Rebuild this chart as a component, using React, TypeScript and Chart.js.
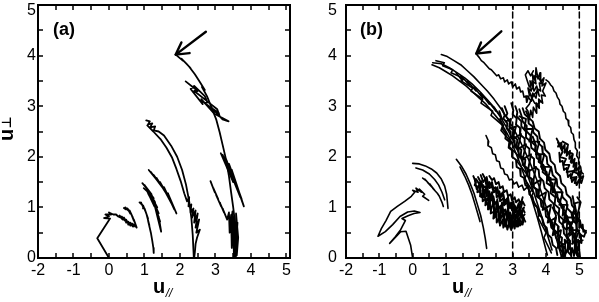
import React, { useEffect, useRef } from 'react';
import { Chart, registerables } from 'chart.js';
Chart.register(...registerables);

type P = [number, number];

// ---------- axis ticks ----------
const xTickLabels = [-2, -1, 0, 1, 2, 3, 4, 5];
const yTickLabels = [0, 1, 2, 3, 4, 5];
const minorStep = 0.5;
const dashedLinesB = [3, 5];

// ---------- panel (a) trajectory ----------
const a1: P[] = [[0,0],[-0.33,0.39],[0.03,0.78],[-0.14,0.79],[0.0,0.82],[-0.1,0.86],[0.06,0.86],[0.0,0.9],[0.12,0.86],[0.2,0.86],[0.26,0.82],[0.32,0.8],[0.3,0.84],[0.38,0.76],[0.36,0.82],[0.44,0.74],[0.42,0.8],[0.5,0.7],[0.48,0.76],[0.56,0.66],[0.54,0.72],[0.62,0.64],[0.6,0.7],[0.68,0.62],[0.66,0.68],[0.74,0.62],[0.72,0.66]];
const a2: P[] = [[0.42,0.99],[0.48,0.96],[0.46,1.0],[0.54,0.94],[0.52,0.98],[0.6,0.88],[0.58,0.94],[0.66,0.82],[0.62,0.88],[0.7,0.74],[0.66,0.82],[0.74,0.68],[0.7,0.76],[0.78,0.6],[0.72,0.72]];
const a3: P[] = [[0.86,1.1],[0.92,1.06],[0.9,1.1],[0.98,0.98],[0.96,1.04],[1.04,0.9],[1.0,0.98],[1.1,0.78],[1.06,0.86],[1.14,0.64],[1.1,0.74],[1.18,0.5],[1.22,0.34],[1.25,0.2],[1.26,0.1]];
const a4: P[] = [[0.94,1.48],[1.2,1.26],[1.0,1.44],[1.26,1.18],[1.04,1.4],[1.3,1.1],[1.1,1.34],[1.36,1.0],[1.16,1.26],[1.4,0.88],[1.24,1.14],[1.44,0.72],[1.3,1.0],[1.47,0.52],[1.4,0.82]];
const a4b: P[] = [[0.98,1.38],[1.1,1.3],[1.04,1.36],[1.16,1.22],[1.1,1.28],[1.22,1.12],[1.16,1.2],[1.28,1.02]];
const a5: P[] = [[1.12,1.74],[1.4,1.5],[1.18,1.7],[1.5,1.4],[1.26,1.64],[1.6,1.3],[1.34,1.58],[1.68,1.2],[1.44,1.5],[1.76,1.08],[1.55,1.4],[1.84,0.96],[1.66,1.28],[1.9,0.88]];
const a6: P[] = [[1.05,2.72],[1.15,2.7],[1.1,2.64],[1.22,2.66],[1.16,2.58],[1.3,2.6],[1.26,2.52],[1.4,2.5],[1.55,2.42],[1.75,2.22],[1.92,2.0],[2.06,1.74],[2.17,1.45],[2.26,1.12],[2.32,0.8],[2.36,0.45],[2.38,0.15],[2.39,0]];
const a7: P[] = [[1.08,2.62],[1.25,2.5],[1.45,2.35],[1.62,2.18],[1.78,1.98],[1.9,1.76],[2.02,1.52],[2.12,1.28],[2.2,1.12],[2.26,1.2],[2.24,1.02],[2.32,1.06],[2.3,0.9],[2.38,0.98],[2.34,0.8],[2.44,0.94],[2.4,0.7],[2.5,0.88],[2.44,0.6],[2.54,0.76],[2.46,0.5],[2.56,0.56],[2.48,0.4],[2.44,0.28],[2.42,0.12],[2.4,0]];
const a8: P[] = [[1.88,4.02],[1.98,3.96],[2.08,3.9],[2.04,3.94],[2.18,3.84],[2.3,3.75],[2.26,3.78],[2.42,3.63],[2.56,3.48],[2.7,3.32],[2.62,3.38],[2.76,3.2],[2.9,2.96],[3.02,2.74],[3.12,2.48],[3.2,2.24],[3.3,1.94],[3.38,1.62],[3.44,1.3],[3.5,1.0],[3.55,0.7],[3.57,0.4],[3.57,0]];
const a9: P[] = [[2.16,3.49],[2.5,3.3],[2.4,3.3],[2.8,3.08],[2.7,3.06],[3.1,2.86],[3.0,2.84],[3.37,2.7],[3.2,2.74],[2.9,2.96],[2.96,2.86],[2.6,3.14],[2.64,3.04],[2.3,3.34],[2.4,3.4],[2.7,3.2],[2.76,3.1],[3.05,2.94],[3.12,2.8]];
const a10: P[] = [[3.15,2.07],[3.5,1.5],[3.2,2.04],[3.58,1.42],[3.24,2.0],[3.66,1.3],[3.3,1.95],[3.74,1.16],[3.38,1.86],[3.8,1.02],[3.46,1.74],[3.7,1.2],[3.3,1.9],[3.6,1.38]];
const a11: P[] = [[2.86,1.52],[2.98,1.3],[2.94,1.38],[3.08,1.16],[3.02,1.24],[3.16,1.02],[3.12,1.1],[3.24,0.9],[3.2,0.98],[3.33,0.76],[3.38,0.9],[3.4,0.5],[3.44,0.85],[3.46,0.2],[3.5,0.8],[3.52,0.02],[3.55,0.7],[3.6,0.25],[3.58,0.88],[3.64,0.4],[3.6,0.05],[3.42,0.6],[3.48,0.92],[3.54,0.4],[3.62,0.7],[3.56,0.02]];
const arrowShaftA: P[] = [[2.73,4.47],[1.88,4.02]];
const arrowHeadA: P[] = [[2.04,4.26],[1.88,4.02],[2.27,4.05]];

// ---------- panel (b) trajectory ----------
const b1: P[] = [[0,0],[-0.06,0.25],[-0.2,0.53],[-0.36,0.52],[-0.69,0.29],[-0.52,0.42],[-0.36,0.56],[-0.22,0.74],[-0.32,0.78],[-0.12,0.84],[0.04,0.88],[0.22,0.9],[0.05,0.93],[-0.15,0.91],[-0.38,0.82],[-0.6,0.66],[-0.82,0.52],[-1.04,0.43],[-0.94,0.58],[-0.8,0.74],[-0.66,0.92],[-0.46,1.02],[-0.24,1.12],[-0.04,1.22],[0.06,1.3],[0.0,1.34],[0.16,1.3],[0.1,1.38],[0.26,1.3],[0.2,1.36],[0.36,1.26],[0.3,1.22],[0.48,1.14]];
const b2: P[] = [[0.0,1.87],[0.2,1.86],[0.38,1.82],[0.56,1.76],[0.72,1.68],[0.86,1.56],[0.96,1.42],[1.02,1.26],[1.06,0.98]];
const b2b: P[] = [[0.3,1.58],[0.42,1.52],[0.36,1.56],[0.5,1.46],[0.44,1.5],[0.58,1.4],[0.52,1.46],[0.66,1.34],[0.6,1.38],[0.74,1.28],[0.8,1.22],[0.88,1.1],[0.92,1.02]];
const b2c: P[] = [[0.1,1.78],[0.3,1.74],[0.5,1.66],[0.66,1.55],[0.78,1.44],[0.88,1.3],[0.96,1.15]];
const b3: P[] = [[1.31,1.95],[1.46,1.82],[1.6,1.66],[1.72,1.48],[1.84,1.28],[1.94,1.06],[2.04,0.84],[2.12,0.6],[2.18,0.38],[2.22,0.19]];
const b3b: P[] = [[1.42,1.8],[1.56,1.62],[1.68,1.44],[1.78,1.26],[1.88,1.04],[1.96,0.86],[2.02,0.72]];
const n1: P[] = [[1.82,1.62],[1.9,1.5],[1.86,1.44],[1.96,1.4],[1.94,1.3],[2.04,1.34],[2.02,1.22],[2.1,1.26],[2.1,1.12],[2.2,1.18],[2.18,1.04],[2.28,1.1],[2.26,0.96],[2.36,1.0],[2.34,0.88],[2.44,0.92],[2.42,0.78],[2.52,0.86],[2.52,0.7],[2.6,0.8],[2.62,0.64],[2.7,0.76],[2.72,0.6],[2.8,0.72],[2.84,0.56],[2.9,0.7],[2.96,0.55],[3.0,0.72],[3.06,0.58],[3.1,0.74],[3.16,0.62],[3.2,0.78],[3.28,0.66],[3.3,0.82],[3.38,0.72]];
const n2: P[] = [[1.96,1.6],[2.04,1.5],[2.02,1.42],[2.12,1.44],[2.12,1.32],[2.22,1.36],[2.22,1.22],[2.32,1.26],[2.32,1.12],[2.42,1.18],[2.42,1.04],[2.52,1.1],[2.52,0.96],[2.62,1.02],[2.64,0.88],[2.72,0.96],[2.74,0.82],[2.82,0.92],[2.86,0.78],[2.92,0.9],[2.98,0.76],[3.04,0.9],[3.1,0.8],[3.16,0.94],[3.22,0.84],[3.3,0.98],[3.36,0.9]];
const n3: P[] = [[2.1,1.66],[2.18,1.56],[2.2,1.46],[2.3,1.5],[2.3,1.38],[2.4,1.42],[2.42,1.3],[2.5,1.34],[2.52,1.2],[2.62,1.26],[2.62,1.12],[2.72,1.18],[2.74,1.04],[2.84,1.1],[2.86,0.98],[2.94,1.06],[2.98,0.94],[3.06,1.04],[3.1,0.94],[3.18,1.08],[3.24,0.98],[3.3,1.12],[3.36,1.04]];
const n4: P[] = [[2.3,1.62],[2.38,1.54],[2.44,1.58],[2.5,1.46],[2.58,1.5],[2.62,1.38],[2.7,1.42],[2.74,1.3],[2.82,1.34],[2.86,1.22],[2.94,1.26],[2.98,1.14],[3.06,1.2],[3.1,1.1],[3.18,1.16],[3.24,1.06],[3.3,1.2]];
const n5: P[] = [[2.0,1.3],[2.06,1.52],[2.14,1.2],[2.24,1.46],[2.3,1.0],[2.38,1.3],[2.46,0.8],[2.54,1.16],[2.6,0.7],[2.68,1.1],[2.78,0.62],[2.86,1.0],[2.94,0.58],[3.02,0.98],[3.12,0.62],[3.2,1.0],[3.32,0.7]];
const n6: P[] = [[1.9,1.56],[1.98,1.48],[2.06,1.5],[2.1,1.38],[2.18,1.42],[2.22,1.28],[2.3,1.32],[2.34,1.18],[2.42,1.22],[2.46,1.08],[2.54,1.12],[2.58,0.98],[2.66,1.04],[2.7,0.9],[2.78,0.96],[2.82,0.82],[2.9,0.88],[2.94,0.74],[3.02,0.82],[3.08,0.68],[3.16,0.76],[3.22,0.64],[3.3,0.74]];
const n7: P[] = [[2.2,1.56],[2.28,1.44],[2.36,1.48],[2.4,1.36],[2.48,1.4],[2.52,1.28],[2.6,1.32],[2.64,1.2],[2.72,1.26],[2.76,1.12],[2.84,1.18],[2.88,1.04],[2.96,1.1],[3.0,0.98],[3.08,1.02],[3.14,0.88],[3.22,0.94],[3.28,0.8],[3.36,0.86]];
const n8: P[] = [[1.86,1.56],[1.92,1.36],[2.0,1.46],[2.06,1.2],[2.14,1.34],[2.2,1.08],[2.28,1.22],[2.34,0.94],[2.42,1.1],[2.48,0.82],[2.56,0.98],[2.62,0.74],[2.7,0.88],[2.76,0.66],[2.84,0.82],[2.9,0.62],[2.98,0.84],[3.04,0.64],[3.12,0.86],[3.18,0.7],[3.26,0.9],[3.34,0.78]];
const n9: P[] = [[2.04,1.64],[2.12,1.5],[2.22,1.6],[2.28,1.4],[2.38,1.5],[2.44,1.3],[2.54,1.4],[2.6,1.18],[2.7,1.3],[2.76,1.06],[2.86,1.2],[2.92,0.98],[3.02,1.12],[3.08,0.9],[3.18,1.04],[3.26,0.86],[3.34,1.0]];
const b5: P[] = [[2.2,2.42],[2.28,2.3],[2.26,2.22],[2.36,2.18],[2.4,2.06],[2.48,2.04],[2.52,1.92],[2.6,1.9],[2.64,1.78],[2.72,1.76],[2.76,1.66],[2.84,1.64],[2.9,1.54],[2.98,1.56],[3.04,1.46],[3.12,1.5],[3.18,1.4],[3.28,1.44],[3.34,1.34],[3.44,1.4],[3.52,1.3],[3.6,1.36]];
const s1: P[] = [[0.58,3.82],[0.8,3.76],[1.0,3.68],[1.2,3.6],[1.4,3.5],[1.6,3.4],[1.8,3.28],[2.0,3.16],[2.2,3.04],[2.4,2.88],[2.6,2.72],[2.8,2.5],[2.9,2.38],[3.02,2.2],[3.14,2.0],[3.26,1.8],[3.38,1.56],[3.5,1.32],[3.62,1.06],[3.74,0.8],[3.86,0.52],[3.96,0.26],[4.04,0.06]];
const s2: P[] = [[0.6,3.86],[0.86,3.84],[1.1,3.76],[1.34,3.66],[1.56,3.56],[1.78,3.44],[2.0,3.3],[2.22,3.14],[2.44,2.98],[2.62,2.8],[2.8,2.6],[2.96,2.4],[3.1,2.2],[3.24,1.98],[3.38,1.76],[3.52,1.5],[3.66,1.24],[3.8,0.96],[3.94,0.68],[4.06,0.42],[4.18,0.16]];
const s3: P[] = [[0.86,4.02],[1.04,3.98],[1.24,3.9],[1.44,3.82],[1.64,3.7],[1.84,3.58],[2.04,3.44],[2.24,3.3],[2.44,3.14],[2.64,2.96],[2.84,2.76],[3.02,2.56],[3.2,2.34],[3.36,2.12],[3.52,1.88],[3.68,1.62],[3.84,1.34],[3.98,1.06],[4.12,0.78],[4.26,0.5],[4.38,0.22],[4.46,0.04]];
const s4: P[] = [[0.7,3.9],[0.95,3.86],[0.9,3.8],[1.2,3.72],[1.15,3.66],[1.5,3.56],[1.45,3.5],[1.8,3.36],[1.75,3.3],[2.1,3.14],[2.05,3.06],[2.4,2.9],[2.35,2.82],[2.7,2.62],[2.65,2.52],[2.95,2.3],[2.9,2.2],[3.2,2.0],[3.14,1.9],[3.42,1.66],[3.36,1.56],[3.62,1.3],[3.56,1.2],[3.82,0.9],[3.76,0.8],[4.0,0.5],[3.94,0.4],[4.16,0.1]];
const s8: P[] = [[1.3,3.66],[1.5,3.5],[1.45,3.6],[1.7,3.42],[1.64,3.5],[1.9,3.3],[1.84,3.38],[2.1,3.16],[2.04,3.26],[2.3,3.04],[2.24,3.12],[2.5,2.9],[2.44,2.98],[2.7,2.74]];
const c1: P[] = [[2.6,2.9],[2.66,2.78],[2.62,2.74],[2.72,2.62],[2.7,2.54],[2.8,2.46],[2.78,2.36],[2.9,2.3],[2.88,2.18],[3.0,2.12],[2.98,2.0],[3.1,1.94],[3.12,1.8],[3.22,1.76],[3.24,1.62],[3.34,1.58],[3.38,1.44],[3.48,1.4],[3.5,1.26],[3.6,1.2],[3.64,1.06],[3.74,1.0],[3.78,0.86],[3.88,0.8],[3.92,0.66],[4.02,0.6],[4.06,0.46],[4.16,0.4],[4.2,0.26],[4.3,0.2],[4.34,0.06]];
const c2: P[] = [[2.76,3.0],[2.84,2.86],[2.8,2.8],[2.92,2.7],[2.9,2.6],[3.02,2.52],[3.0,2.42],[3.14,2.34],[3.12,2.22],[3.26,2.14],[3.24,2.02],[3.38,1.94],[3.36,1.82],[3.5,1.74],[3.5,1.6],[3.62,1.54],[3.64,1.4],[3.76,1.34],[3.78,1.2],[3.9,1.12],[3.94,0.98],[4.04,0.92],[4.08,0.78],[4.2,0.7],[4.24,0.56],[4.34,0.5],[4.38,0.34],[4.48,0.28],[4.5,0.12],[4.58,0.04]];
const c3: P[] = [[2.96,3.06],[3.02,2.92],[3.0,2.84],[3.12,2.76],[3.1,2.64],[3.24,2.56],[3.22,2.44],[3.36,2.36],[3.36,2.24],[3.5,2.16],[3.5,2.04],[3.64,1.96],[3.64,1.82],[3.78,1.74],[3.8,1.6],[3.92,1.52],[3.96,1.38],[4.08,1.3],[4.1,1.16],[4.22,1.08],[4.26,0.94],[4.38,0.86],[4.4,0.72],[4.52,0.64],[4.54,0.48],[4.64,0.4],[4.66,0.24],[4.74,0.16],[4.76,0.02]];
const c4: P[] = [[3.2,2.94],[3.26,2.82],[3.3,2.7],[3.4,2.62],[3.42,2.5],[3.54,2.42],[3.56,2.3],[3.68,2.22],[3.7,2.1],[3.82,2.02],[3.84,1.88],[3.96,1.8],[4.0,1.66],[4.12,1.58],[4.14,1.44],[4.26,1.36],[4.3,1.22],[4.42,1.14],[4.46,1.0],[4.58,0.92],[4.6,0.78],[4.72,0.7],[4.74,0.56],[4.84,0.48],[4.86,0.32],[4.92,0.22],[4.94,0.06]];
const c5: P[] = [[3.4,2.9],[3.5,2.76],[3.6,2.7],[3.66,2.56],[3.78,2.5],[3.82,2.36],[3.94,2.28],[3.98,2.14],[4.1,2.06],[4.14,1.92],[4.26,1.84],[4.3,1.7],[4.42,1.62],[4.46,1.48],[4.58,1.4],[4.62,1.26],[4.74,1.18],[4.78,1.04],[4.88,0.96],[4.92,0.82],[5.02,0.74],[5.06,0.6],[5.16,0.54],[5.2,0.5]];
const c6: P[] = [[2.68,2.96],[2.76,2.82],[2.72,2.76],[2.84,2.66],[2.82,2.56],[2.94,2.5],[2.94,2.38],[3.06,2.32],[3.06,2.2],[3.18,2.14],[3.18,2.02],[3.3,1.96],[3.3,1.84],[3.44,1.76],[3.44,1.62],[3.56,1.56],[3.58,1.42],[3.7,1.36],[3.72,1.22],[3.84,1.16],[3.86,1.02],[3.98,0.96],[4.0,0.82],[4.12,0.76],[4.16,0.6],[4.26,0.54],[4.3,0.4],[4.4,0.32],[4.42,0.18],[4.5,0.1],[4.52,0.0]];
const c7: P[] = [[3.08,3.0],[3.14,2.88],[3.12,2.8],[3.26,2.7],[3.26,2.6],[3.4,2.5],[3.4,2.38],[3.54,2.3],[3.56,2.18],[3.7,2.1],[3.72,1.98],[3.86,1.9],[3.88,1.76],[4.02,1.7],[4.04,1.56],[4.18,1.48],[4.2,1.34],[4.34,1.26],[4.36,1.12],[4.5,1.04],[4.52,0.9],[4.64,0.82],[4.68,0.68],[4.78,0.6],[4.8,0.44],[4.9,0.36],[4.92,0.2],[5.0,0.14],[5.02,0.02]];
const c8: P[] = [[3.3,2.96],[3.36,2.84],[3.46,2.78],[3.48,2.66],[3.6,2.6],[3.62,2.48],[3.74,2.4],[3.76,2.28],[3.88,2.2],[3.9,2.08],[4.02,2.0],[4.04,1.86],[4.16,1.78],[4.2,1.64],[4.32,1.56],[4.34,1.42],[4.46,1.34],[4.5,1.2],[4.62,1.12],[4.64,0.98],[4.76,0.9],[4.8,0.76],[4.9,0.68],[4.94,0.54],[5.04,0.46],[5.06,0.3]];
const c9: P[] = [[2.8,2.7],[2.95,2.75],[2.9,2.55],[3.1,2.6],[3.0,2.35],[3.25,2.45],[3.15,2.15],[3.4,2.25],[3.3,1.95],[3.55,2.05],[3.45,1.7],[3.7,1.8],[3.6,1.45],[3.85,1.55],[3.75,1.2],[4.0,1.3],[3.9,0.95],[4.15,1.05],[4.05,0.7],[4.3,0.8],[4.2,0.45],[4.45,0.55],[4.35,0.2],[4.6,0.3]];
const c10: P[] = [[3.2,2.8],[3.4,2.75],[3.35,2.55],[3.6,2.55],[3.5,2.3],[3.8,2.3],[3.7,2.05],[3.95,2.05],[3.85,1.8],[4.15,1.8],[4.05,1.55],[4.3,1.55],[4.2,1.3],[4.5,1.3],[4.4,1.05],[4.65,1.05],[4.55,0.8],[4.85,0.8],[4.7,0.55],[5.0,0.55],[4.85,0.3],[5.1,0.35]];
const c11: P[] = [[4.2,1.0],[4.3,0.84],[4.26,0.7],[4.38,0.62],[4.36,0.46],[4.48,0.4],[4.46,0.24],[4.58,0.18],[4.56,0.04],[4.64,0.16],[4.7,0.32],[4.64,0.46],[4.76,0.52],[4.72,0.7],[4.84,0.72],[4.8,0.9],[4.9,0.92],[4.86,1.08],[4.96,1.1]];
const c12: P[] = [[3.6,2.4],[3.7,2.22],[3.66,2.12],[3.8,2.04],[3.78,1.9],[3.92,1.84],[3.9,1.7],[4.04,1.62],[4.02,1.48],[4.16,1.42],[4.14,1.28],[4.28,1.2],[4.26,1.06],[4.4,0.98],[4.38,0.84],[4.52,0.76],[4.5,0.62],[4.62,0.56],[4.62,0.4],[4.72,0.34],[4.72,0.18],[4.82,0.12]];
const u1: P[] = [[1.91,4.03],[2.0,3.96],[2.06,3.9],[2.14,3.86],[2.22,3.8],[2.3,3.74],[2.36,3.72],[2.44,3.66],[2.52,3.6],[2.58,3.62],[2.64,3.54],[2.72,3.56],[2.76,3.48],[2.84,3.52],[2.88,3.44],[2.96,3.48],[3.0,3.38],[3.08,3.44],[3.12,3.34],[3.2,3.38],[3.24,3.28],[3.3,3.3],[3.34,3.18],[3.4,3.2],[3.42,3.08]];
const u2: P[] = [[3.42,3.08],[3.5,3.22],[3.46,3.36],[3.56,3.3],[3.52,3.5],[3.62,3.4],[3.6,3.62],[3.68,3.5],[3.7,3.76],[3.76,3.54],[3.82,3.66],[3.84,3.48],[3.94,3.56],[3.88,3.4],[4.0,3.46],[3.9,3.3],[3.98,3.2],[3.86,3.22],[3.9,3.06],[3.78,3.14],[3.8,2.96],[3.7,3.06],[3.72,2.86],[3.62,2.98],[3.6,2.78],[3.54,2.92],[3.5,2.74],[3.46,2.9],[3.4,2.96],[3.5,3.04],[3.58,3.16],[3.66,3.24],[3.74,3.3],[3.8,3.2],[3.72,3.4],[3.64,3.3],[3.58,3.44],[3.5,3.38],[3.44,3.5],[3.38,3.62],[3.46,3.7],[3.54,3.6],[3.62,3.7]];
const u4: P[] = [[3.44,3.2],[3.56,3.1],[3.6,3.26],[3.7,3.16],[3.74,3.34],[3.84,3.3],[3.8,3.46],[3.9,3.44],[3.78,3.56],[3.66,3.6],[3.7,3.44],[3.58,3.5],[3.62,3.36],[3.5,3.3],[3.56,3.18],[3.66,3.06],[3.76,3.04],[3.84,3.1]];
const u3: P[] = [[4.0,3.52],[4.08,3.48],[4.14,3.42],[4.2,3.38],[4.24,3.3],[4.3,3.26],[4.34,3.18],[4.4,3.12],[4.42,3.04],[4.48,3.0],[4.52,2.9],[4.58,2.86],[4.6,2.76],[4.66,2.72],[4.68,2.62],[4.74,2.58],[4.76,2.48],[4.82,2.44],[4.84,2.34],[4.88,2.28],[4.88,2.18],[4.94,2.12],[4.92,2.02],[4.98,1.96],[4.98,1.86],[5.04,1.8],[5.06,1.7],[5.12,1.66]];
const b8: P[] = [[4.32,2.36],[4.4,2.26],[4.36,2.2],[4.46,2.28],[4.48,2.14],[4.56,2.24],[4.56,2.08],[4.64,2.18],[4.62,2.02],[4.72,2.12],[4.7,1.96],[4.8,2.04],[4.76,1.88],[4.86,1.96],[4.82,1.8],[4.92,1.88],[4.9,1.72],[5.0,1.8],[4.96,1.64],[5.06,1.72],[5.02,1.56],[5.12,1.62],[5.06,1.48],[4.98,1.54],[4.92,1.44],[4.86,1.58],[4.78,1.5],[4.74,1.66],[4.66,1.6],[4.62,1.78],[4.54,1.74],[4.5,1.92],[4.42,1.9],[4.4,2.08]];
const b8b: P[] = [[4.36,2.28],[4.5,2.1],[4.42,2.0],[4.6,1.96],[4.52,1.84],[4.7,1.84],[4.62,1.7],[4.82,1.72],[4.74,1.58],[4.92,1.6],[4.86,1.48],[5.04,1.5],[4.98,1.66],[4.84,1.7],[4.9,1.86],[4.74,1.9],[4.8,2.06],[4.62,2.1],[4.66,2.24],[4.5,2.3]];
const b9: P[] = [[4.8,1.22],[4.86,1.0],[4.82,0.9],[4.92,0.84],[4.9,0.7],[5.0,0.76],[5.0,0.6],[5.1,0.66],[5.12,0.52],[5.2,0.54],[5.14,0.42],[5.04,0.46],[5.06,0.3],[4.96,0.36],[5.0,0.16],[4.92,0.22],[4.96,0.02],[4.88,0.12],[4.86,0.34],[4.78,0.28],[4.8,0.5],[4.7,0.44],[4.72,0.62],[4.62,0.56],[4.64,0.76],[4.56,0.7],[4.58,0.9],[4.5,0.84],[4.54,1.02]];
const b9b: P[] = [[4.46,0.02],[4.52,0.14],[4.48,0.24],[4.58,0.2],[4.56,0.36],[4.66,0.3],[4.66,0.12],[4.74,0.06],[4.78,0.2],[4.84,0.04],[4.9,0.5],[4.96,0.9],[5.04,1.1],[4.94,1.2]];
const arrowShaftB: P[] = [[2.66,4.48],[1.91,4.04]];
const arrowHeadB: P[] = [[2.05,4.26],[1.91,4.04],[2.33,4.07]];

const trajA: P[][] = [a1, a2, a3, a4, a4b, a5, a6, a7, a8, a9, a10, a11];
const trajB: P[][] = [b1, b2, b2b, b2c, b3, b3b, b5, s1, s2, s3, s4, s8, u1, u2, u4, u3];
const denseB: P[][] = [n1, n2, n3, n4, n5, n6, n7, n8, n9, c1, c2, c3, c4, c5, c6, c7, c8, c9, c10, c11, c12, b8, b8b, b9, b9b];

const FONT = "'Liberation Sans', Arial, Helvetica, sans-serif";

const line = (arr: P[], width = 1.5, dash: number[] = []) => ({
  data: arr.map(([x, y]) => ({ x, y })),
  showLine: true,
  borderColor: '#000',
  backgroundColor: '#000',
  borderWidth: width,
  borderDash: dash,
  borderJoinStyle: 'round',
  borderCapStyle: 'round',
  pointRadius: 0,
  fill: false,
  tension: 0,
});

interface PanelOpts {
  label: string;
  yTitle: boolean;
  yLabelRight: number;
  xTitleLeft: number;
  panelLabelX: number;
}

const decorPlugin = (o: PanelOpts) => ({
  id: 'decor',
  afterDatasetsDraw(chart: any) {
    const { ctx, chartArea: a } = chart;
    const xs = chart.scales.x;
    const ys = chart.scales.y;
    ctx.save();
    ctx.strokeStyle = '#000';
    ctx.fillStyle = '#000';
    ctx.lineWidth = 1.5;
    ctx.beginPath();
    const x0 = Math.ceil(xs.min / minorStep) * minorStep;
    for (let v = x0; v <= xs.max + 1e-9; v += minorStep) {
      const px = Math.round(xs.getPixelForValue(v));
      if (px <= a.left + 1 || px >= a.right - 1) continue;
      ctx.moveTo(px, a.bottom); ctx.lineTo(px, a.bottom - 5);
      ctx.moveTo(px, a.top); ctx.lineTo(px, a.top + 5);
    }
    for (let v = 0; v <= ys.max + 1e-9; v += minorStep) {
      const py = Math.round(ys.getPixelForValue(v));
      if (py <= a.top + 1 || py >= a.bottom - 1) continue;
      ctx.moveTo(a.left, py); ctx.lineTo(a.left + 5, py);
      ctx.moveTo(a.right, py); ctx.lineTo(a.right - 5, py);
    }
    ctx.stroke();
    ctx.lineWidth = 2;
    ctx.strokeRect(a.left, a.top, a.right - a.left, a.bottom - a.top);
    ctx.font = `16px ${FONT}`;
    ctx.textAlign = 'center';
    ctx.textBaseline = 'alphabetic';
    xTickLabels.forEach((v) => {
      ctx.fillText(String(v), xs.getPixelForValue(v), 275);
    });
    ctx.textAlign = 'right';
    ctx.textBaseline = 'middle';
    yTickLabels.forEach((v) => {
      let py = ys.getPixelForValue(v);
      if (py < a.top + 6) py = a.top + 6;
      ctx.fillText(String(v), o.yLabelRight, py);
    });
    ctx.textAlign = 'left';
    ctx.textBaseline = 'alphabetic';
    ctx.font = `bold 20px ${FONT}`;
    ctx.fillText('u', o.xTitleLeft, 293);
    const uw = ctx.measureText('u').width;
    ctx.font = `italic 12px ${FONT}`;
    ctx.fillText('//', o.xTitleLeft + uw + 0.5, 297);
    if (o.yTitle) {
      ctx.save();
      ctx.translate(13, 141);
      ctx.rotate(-Math.PI / 2);
      ctx.font = `bold 20px ${FONT}`;
      ctx.fillText('u', 0, 0);
      const w = ctx.measureText('u').width;
      ctx.font = `bold 13px 'DejaVu Sans', sans-serif`;
      ctx.fillText('⊥', w + 0.5, -2);
      ctx.restore();
    }
    ctx.font = `bold 18px ${FONT}`;
    ctx.fillText(o.label, o.panelLabelX, 34.5);
    ctx.restore();
  },
});

function build(canvas: HTMLCanvasElement, datasets: any[], xMin: number, xMax: number, pad: any, o: PanelOpts) {
  return new Chart(canvas, {
    type: 'scatter',
    data: { datasets },
    options: {
      animation: false,
      responsive: false,
      events: [],
      layout: { padding: pad },
      plugins: { legend: { display: false }, tooltip: { enabled: false } },
      scales: {
        x: { type: 'linear', min: xMin, max: xMax, display: false },
        y: { type: 'linear', min: 0, max: 5, display: false },
      },
    } as any,
    plugins: [decorPlugin(o)],
  });
}

export default function App() {
  const refA = useRef<HTMLCanvasElement>(null);
  const refB = useRef<HTMLCanvasElement>(null);
  useEffect(() => {
    const dsA = [
      ...trajA.map((t) => line(t, 1.8)),
      line(arrowShaftA, 2.4),
      line(arrowHeadA, 2.4),
    ];
    const dsB = [
      ...trajB.map((t) => line(t, 1.6)),
      ...denseB.map((t) => line(t, 1.9)),
      ...dashedLinesB.map((v) => line([[v, 0], [v, 5]], 1.5, [6, 4])),
      line(arrowShaftB, 2.4),
      line(arrowHeadB, 2.4),
    ];
    const cA = build(refA.current!, dsA, -2, 5.1, { left: 38, right: 10, top: 5, bottom: 44 },
      { label: '(a)', yTitle: true, yLabelRight: 36, xTitleLeft: 153, panelLabelX: 53 });
    const cB = build(refB.current!, dsB, -2, 5.5, { left: 46, right: 3, top: 5, bottom: 44 },
      { label: '(b)', yTitle: false, yLabelRight: 37, xTitleLeft: 152, panelLabelX: 60 });
    return () => { cA.destroy(); cB.destroy(); };
  }, []);
  return (
    <div style={{ position: 'absolute', left: 0, top: 0, width: 599, height: 302, background: '#fff' }}>
      <canvas ref={refA} width={300} height={302} style={{ position: 'absolute', left: 0, top: 0 }} />
      <canvas ref={refB} width={299} height={302} style={{ position: 'absolute', left: 300, top: 0 }} />
    </div>
  );
}
